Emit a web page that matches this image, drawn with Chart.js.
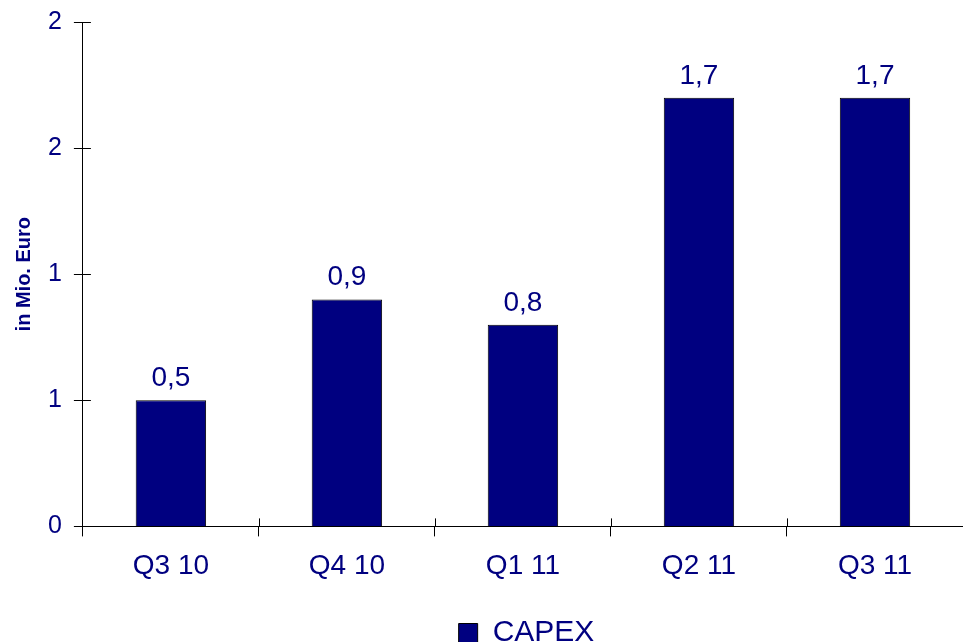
<!DOCTYPE html>
<html>
<head>
<meta charset="utf-8">
<script src="https://cdn.jsdelivr.net/npm/chart.js@4.4.0/dist/chart.umd.min.js"></script>
<style>
  html, body { margin: 0; padding: 0; background: #fff; }
  #wrap { width: 963px; height: 642px; }
</style>
</head>
<body>
<div id="wrap"><canvas id="myChart"></canvas></div>
<script>
const labels = ['Q3 10', 'Q4 10', 'Q1 11', 'Q2 11', 'Q3 11'];
const capex = [0.5, 0.9, 0.8, 1.7, 1.7];
const valueLabels = ['0,5', '0,9', '0,8', '1,7', '1,7'];

const navy = '#000080';
const font = "'Liberation Sans', Arial, sans-serif";

// values above the bars
const barLabels = {
  id: 'barLabels',
  afterDatasetsDraw(chart) {
    const ctx = chart.ctx;
    const meta = chart.getDatasetMeta(0);
    ctx.save();
    ctx.fillStyle = navy;
    ctx.font = '28px ' + font;
    ctx.textAlign = 'center';
    ctx.textBaseline = 'alphabetic';
    meta.data.forEach((bar, i) => {
      ctx.fillText(valueLabels[i], bar.x, bar.y - 14);
    });
    ctx.restore();
  }
};

// tick marks crossing the axis lines (inner part)
const innerTicks = {
  id: 'innerTicks',
  afterDraw(chart) {
    const ctx = chart.ctx;
    const x = chart.scales.x, y = chart.scales.y;
    ctx.save();
    ctx.strokeStyle = '#000';
    ctx.lineWidth = 1;
    ctx.beginPath();
    y.ticks.forEach((t, i) => {
      const py = Math.round(y.getPixelForTick(i)) + 0.5;
      ctx.moveTo(x.left, py);
      ctx.lineTo(x.left + 8, py);
    });
    const n = labels.length;
    for (let i = 1; i <= n; i++) {
      const px = Math.round(x.left + i * (x.width / n)) + 0.5;
      ctx.moveTo(px, y.bottom);
      ctx.lineTo(px, y.bottom - 8);
    }
    ctx.stroke();
    ctx.restore();
  }
};

// legend sits a bit right of centre in the original
const legendShift = {
  id: 'legendShift',
  afterLayout(chart) {
    chart.legend.left += 90;
  }
};

new Chart(document.getElementById('myChart'), {
  type: 'bar',
  data: {
    labels: labels,
    datasets: [{
      label: 'CAPEX',
      data: capex,
      backgroundColor: navy,
      borderColor: '#000',
      borderWidth: 1,
      categoryPercentage: 1,
      barPercentage: 0.4
    }]
  },
  options: {
    responsive: true,
    maintainAspectRatio: false,
    animation: false,
    layout: { padding: { top: 22, right: 0, bottom: -16, left: 0 } },
    plugins: {
      legend: {
        position: 'bottom',
        labels: {
          color: navy,
          font: { family: font, size: 30, lineHeight: 1 },
          boxWidth: 19,
          boxHeight: 19,
          padding: 2
        }
      },
      tooltip: { enabled: false }
    },
    scales: {
      x: {
        offset: true,
        grid: { display: true, drawOnChartArea: false, color: '#000', tickLength: 10, offset: true },
        border: { color: '#000', width: 1 },
        ticks: { color: navy, font: { family: font, size: 28 }, padding: 13 },
        afterFit: (s) => { s.height += 20; }
      },
      y: {
        min: 0,
        max: 2,
        grid: { drawOnChartArea: false, color: '#000', tickLength: 9 },
        border: { color: '#000', width: 1 },
        ticks: {
          stepSize: 0.5,
          color: navy,
          font: { family: font, size: 25 },
          padding: 12,
          callback: (v) => Math.round(v).toString()
        },
        title: {
          display: true,
          text: 'in Mio. Euro',
          color: navy,
          font: { family: font, size: 20, weight: 'bold' },
          padding: { top: 12, bottom: 0 }
        },
        afterFit: (s) => { s.paddingTop = 0; }
      }
    }
  },
  plugins: [barLabels, innerTicks, legendShift]
});
</script>
</body>
</html>
